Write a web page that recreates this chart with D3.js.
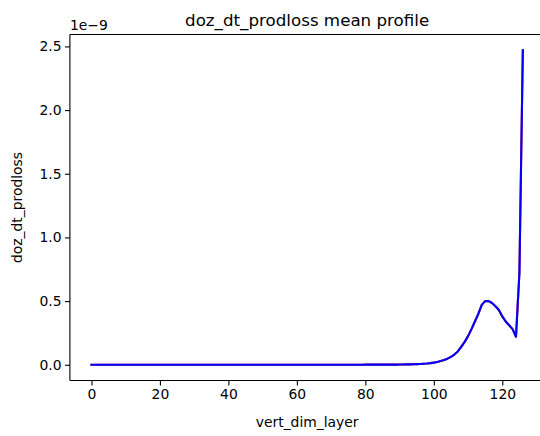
<!DOCTYPE html>
<html>
<head>
<meta charset="utf-8">
<script src="https://cdn.jsdelivr.net/npm/d3@7"></script>
<style>
  html, body { margin: 0; padding: 0; background: #fff; }
  svg { display: block; font-family: "DejaVu Sans", sans-serif; }
</style>
</head>
<body>
<svg id="chart" width="540" height="436"></svg>
<script>
// Mean vertical profile of doz_dt_prodloss, one value per layer (units of 1e-9)
const layers = d3.range(0, 127);
const meanProfile = [
  0.000, 0.000, 0.000, 0.000, 0.000, 0.000, 0.000, 0.000, 0.000, 0.000,
  0.000, 0.000, 0.000, 0.000, 0.000, 0.000, 0.000, 0.000, 0.000, 0.000,
  0.000, 0.000, 0.000, 0.000, 0.000, 0.000, 0.000, 0.000, 0.000, 0.000,
  0.000, 0.000, 0.000, 0.000, 0.000, 0.000, 0.000, 0.000, 0.000, 0.000,
  0.000, 0.000, 0.000, 0.000, 0.000, 0.000, 0.000, 0.000, 0.000, 0.000,
  0.000, 0.000, 0.000, 0.000, 0.000, 0.000, 0.000, 0.000, 0.000, 0.000,
  0.000, 0.000, 0.000, 0.000, 0.000, 0.000, 0.000, 0.000, 0.000, 0.000,
  0.000, 0.000, 0.000, 0.000, 0.000, 0.000, 0.000, 0.000, 0.000, 0.000,
  0.001, 0.001, 0.001, 0.001, 0.001, 0.001, 0.001, 0.001, 0.001, 0.001,
  0.002, 0.002, 0.003, 0.003, 0.004, 0.005, 0.006, 0.008, 0.010, 0.013,
  0.017, 0.022, 0.029, 0.037, 0.048, 0.062, 0.080, 0.105, 0.140, 0.180,
  0.225, 0.280, 0.340, 0.400, 0.470, 0.500, 0.500, 0.485, 0.460, 0.430,
  0.380, 0.340, 0.310, 0.280, 0.220, 0.720, 2.470
];
const exponent = -9;
const yTicks = [0.0, 0.5, 1.0, 1.5, 2.0, 2.5];
const xTicks = [0, 20, 40, 60, 80, 100, 120];

const titleText = "doz_dt_prodloss mean profile";
const xLabelText = "vert_dim_layer";
const yLabelText = "doz_dt_prodloss";

// axes box
const boxLeft = 69.9, boxRight = 544.4, boxTop = 34.5, boxBottom = 380.5;

const svg = d3.select("#chart");

// 5% padding on both axes around the data range
const xExt = d3.extent(layers), xPad = (xExt[1] - xExt[0]) * 0.05;
const yExt = d3.extent(meanProfile), yPad = (yExt[1] - yExt[0]) * 0.05;

const x = d3.scaleLinear().domain([xExt[0] - xPad, xExt[1] + xPad]).range([boxLeft, boxRight]);
const y = d3.scaleLinear().domain([yExt[0] - yPad, yExt[1] + yPad]).range([boxBottom, boxTop]);

const pts = layers.map((l, i) => [l, meanProfile[i]]);
const line = d3.line().x(d => x(d[0])).y(d => y(d[1]));

const plot = svg.append("g");
plot.append("defs").append("clipPath").attr("id", "clip")
  .append("rect").attr("x", boxLeft).attr("y", boxTop)
  .attr("width", boxRight - boxLeft).attr("height", boxBottom - boxTop);

const lines = plot.append("g").attr("clip-path", "url(#clip)");
lines.append("path").datum(pts).attr("d", line)
  .attr("fill", "none").attr("stroke", "#d62728").attr("stroke-width", 2.1)
  .attr("stroke-linejoin", "round").attr("stroke-linecap", "square");
lines.append("path").datum(pts).attr("d", line)
  .attr("fill", "none").attr("stroke", "#0000ff").attr("stroke-width", 2.1)
  .attr("stroke-linejoin", "round").attr("stroke-linecap", "square");

// axes
const fmt = d3.format(".1f");
const xAxis = d3.axisBottom(x).tickValues(xTicks).tickSize(4.9).tickPadding(3.5).tickFormat(d3.format("d"));
const yAxis = d3.axisLeft(y).tickValues(yTicks).tickSize(4.9).tickPadding(3.5).tickFormat(fmt);

const gx = svg.append("g").attr("transform", `translate(0,${boxBottom})`).call(xAxis);
const gy = svg.append("g").attr("transform", `translate(${boxLeft},0)`).call(yAxis);
[gx, gy].forEach(g => {
  g.select(".domain").remove();
  g.selectAll(".tick line").attr("stroke", "#000").attr("stroke-width", 1.1);
  g.selectAll(".tick text").attr("fill", "#000").attr("font-size", "13.9px")
    .attr("font-family", "DejaVu Sans, sans-serif");
});

// spines
const spine = svg.append("g").attr("stroke", "#000").attr("stroke-width", 1.1).attr("fill", "none");
spine.append("line").attr("x1", boxLeft).attr("x2", boxLeft).attr("y1", boxTop).attr("y2", boxBottom);
spine.append("line").attr("x1", boxLeft).attr("x2", boxRight).attr("y1", boxBottom).attr("y2", boxBottom);
spine.append("line").attr("x1", boxLeft).attr("x2", boxRight).attr("y1", boxTop).attr("y2", boxTop);
spine.append("line").attr("x1", boxRight).attr("x2", boxRight).attr("y1", boxTop).attr("y2", boxBottom);

// offset text
svg.append("text").attr("x", boxLeft).attr("y", 29.5).attr("font-size", "13.9px").attr("fill", "#000")
  .text("1e\u2212" + Math.abs(exponent));

// title and labels
svg.append("text").attr("x", (boxLeft + boxRight) / 2).attr("y", 26.2).attr("text-anchor", "middle")
  .attr("font-size", "16.7px").attr("fill", "#000").text(titleText);
svg.append("text").attr("x", (boxLeft + boxRight) / 2).attr("y", 427).attr("text-anchor", "middle")
  .attr("font-size", "13.9px").attr("fill", "#000").text(xLabelText);
svg.append("text").attr("transform", `translate(22,${(boxTop + boxBottom) / 2}) rotate(-90)`)
  .attr("text-anchor", "middle").attr("font-size", "13.9px").attr("fill", "#000").text(yLabelText);
</script>
</body>
</html>
